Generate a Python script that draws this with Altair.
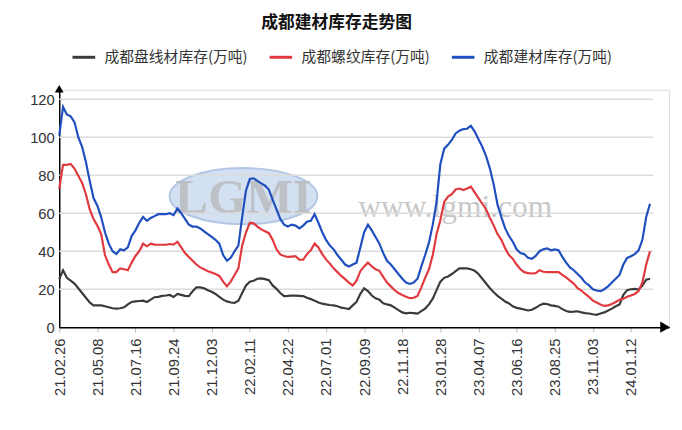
import altair as alt
import pandas as pd

tick_labels = ["21.02.26", "21.05.08", "21.07.16", "21.09.24", "21.12.03", "22.02.11",
               "22.04.22", "22.07.01", "22.09.09", "22.11.18", "23.01.28", "23.04.07",
               "23.06.16", "23.08.25", "23.11.03", "24.01.12"]
y_ticks = [0, 20, 40, 60, 80, 100, 120]

series_names = ["成都盘线材库存(万吨)", "成都螺纹库存(万吨)", "成都建材库存(万吨)"]
series_colors = ["#3a3a3a", "#e0393e", "#1f4fbf"]

wire = [25.3, 30, 26, 24.5, 23, 20.5, 18, 15.5, 13, 11.5,
        11.5, 11.5, 11, 10.5, 10, 9.8, 10, 10.5, 12, 13.3,
        13.6, 13.8, 14, 13.3, 14.5, 15.8, 16, 16.5, 16.7, 17,
        15.9, 17.5, 17, 16.5, 16.4, 19, 21, 21, 20.5, 19.5,
        18.7, 17.5, 16, 14.5, 13.6, 13, 12.8, 14, 18, 22,
        24, 24.5, 25.5, 25.7, 25.3, 24.8, 22, 20.2, 18, 16.4,
        16.5, 16.7, 16.6, 16.5, 16.4, 15.5, 14.8, 14, 13, 12.4,
        12, 11.7, 11.5, 11, 10.3, 10, 9.6, 11.5, 13.3, 17.6,
        20.5, 19, 16.7, 15.2, 14.5, 12.6, 12, 11.5, 10.3, 9,
        7.8, 7.3, 7.6, 7.4, 7.2, 8.5, 9.8, 12, 15, 19.5,
        24, 26, 26.7, 28, 29.5, 31, 31, 31, 30.5, 29.7,
        28, 25.5, 23, 20.5, 18.4, 16.5, 15, 13.5, 12.5, 11,
        10.2, 9.8, 9.3, 8.8, 9.2, 10.2, 11.5, 12.4, 12.2, 11.5,
        11.2, 10.8, 9.5, 8.5, 8.1, 8.2, 8.4, 7.8, 7.4, 7.2,
        6.8, 6.5, 7.2, 7.8, 8.8, 9.8, 11, 12, 17, 19.5,
        20, 20.2, 19.8, 21.9, 25, 25.5]

rebar = [73, 85.5, 85.5, 86, 83.5, 79.7, 76, 70, 62, 57,
         53.5, 49, 38, 33, 29, 29, 31, 30.5, 30, 34,
         37.5, 40, 44, 42.6, 44, 43.5, 43.4, 43.4, 43.4, 43.8,
         43.5, 45, 42, 39, 37, 35, 33, 31.5, 30.5, 29.5,
         28.8, 28, 27, 24, 21.5, 24, 27.5, 31, 43, 50,
         55, 54.7, 53, 51.5, 50.5, 49.5, 46, 41, 38.3, 37.5,
         37, 37.2, 37.4, 35.5, 35.5, 38.5, 40.5, 44, 42, 38.5,
         35.7, 33.5, 31, 29, 27, 25.3, 23.5, 22, 24.5, 29.5,
         32, 34, 32, 30.5, 29.7, 26.5, 23.5, 21.5, 19.5, 18,
         17, 16, 15.3, 15.5, 16.5, 21, 26, 30.5, 38, 49,
         56.4, 66, 68.8, 70, 72.5, 73, 72.2, 73, 74, 71,
         68, 65, 62, 57.5, 53.5, 49, 46, 41.5, 38, 36,
         33, 30.5, 29, 28.5, 28.3, 28.5, 30, 29.2, 29, 29,
         29, 29, 27.5, 26.2, 24.5, 23, 20.5, 19.3, 17.5, 16,
         14, 13, 12, 11.2, 11.5, 12.2, 13.3, 14.5, 15, 16,
         16.7, 17.5, 19, 23.6, 33, 40]

total = [101, 116, 112, 111, 108, 100, 95, 87, 77, 68,
         64, 58, 50, 44, 40, 38.5, 41, 40.5, 42, 48,
         51, 55, 58, 56, 57.5, 58.5, 59.5, 59.5, 59.5, 60,
         59, 62.5, 60, 57, 54, 53, 53, 52, 50.5, 49,
         47.5, 46, 44, 38, 35, 36.5, 40, 43, 58, 72,
         78, 78.4, 77, 75.7, 74.5, 72.5, 67, 62, 57, 54,
         53, 54, 53.5, 52, 53.5, 55.5, 56, 59.5, 55, 50,
         46, 43, 41, 38, 35.5, 33, 32, 33, 34, 42,
         50, 54, 51, 47.5, 44, 39, 35, 33, 30.5, 28,
         25.5, 23.5, 22.8, 23.5, 25.5, 32, 38, 44.5, 54, 66,
         86, 94, 96, 98.6, 102, 103.5, 104.3, 104.5, 106, 103,
         99, 95, 90, 83.5, 75, 64.5, 58, 52, 48, 45,
         41, 39, 38.5, 36.5, 36, 37.5, 40, 41, 41.5, 40.5,
         41, 40.5, 37, 34, 31.5, 30, 28, 26, 23.5, 22,
         20, 19.3, 19, 20, 21.5, 23.5, 25.5, 27.5, 33, 36.5,
         37.4, 38.5, 40.5, 46, 58, 65]

rows = []
for name, vals in zip(series_names, [wire, rebar, total]):
    for i, v in enumerate(vals):
        rows.append({"idx": i, "value": v, "series": name})
df = pd.DataFrame(rows)

label_expr = "[" + ",".join("'%s'" % s for s in tick_labels) + "][round(datum.value/10)]"

W, H = 619, 241
x_scale = alt.Scale(domain=[0, 160], nice=False, zero=False)
y_scale = alt.Scale(domain=[0, 125], nice=False)

lines = alt.Chart(df).mark_line(strokeWidth=2.2, clip=False).encode(
    x=alt.X("idx:Q", scale=x_scale, title=None,
            axis=alt.Axis(values=list(range(0, 151, 10)), labelExpr=label_expr,
                          labelAngle=270, grid=False, domainColor="#000000",
                          domainWidth=1.5, tickColor="#bbbbbb", tickSize=5,
                          labelFontSize=15, labelFont="Liberation Sans",
                          labelColor="#333333", labelPadding=6)),
    y=alt.Y("value:Q", scale=y_scale, title=None,
            axis=alt.Axis(values=y_ticks, grid=False, domainColor="#000000",
                          domainWidth=1.5, ticks=False, labelFontSize=15,
                          labelFont="Liberation Sans", labelColor="#333333",
                          labelPadding=5)),
    color=alt.Color("series:N", scale=alt.Scale(domain=series_names, range=series_colors),
                    legend=alt.Legend(orient="none", legendX=12, legendY=-46,
                                      direction="horizontal", title=None,
                                      symbolType="stroke", symbolSize=529,
                                      symbolStrokeWidth=3, labelFontSize=15,
                                      labelFont="Noto Sans CJK SC", labelColor="#333333",
                                      columnPadding=15, labelOffset=8)),
    detail="series:N",
    order="idx:Q",
)

grid = alt.Chart(pd.DataFrame({"g": y_ticks[1:]})).mark_rule(
    color="#dcdcdc", strokeWidth=1.5).encode(
    y=alt.Y("g:Q", scale=y_scale), x=alt.value(0), x2=alt.value(603))

one = pd.DataFrame({"t": ["www.lgmi.com"], "logo": ["LGMI"]})
ellipse = alt.Chart(one).mark_point(
    shape="M-1,0A1,0.38,0,1,1,1,0A1,0.38,0,1,1,-1,0Z", filled=True,
    fill="#c4d6ee", stroke="#9ab3da", strokeWidth=2, opacity=0.75, size=22500
).encode(x=alt.value(187), y=alt.value(108))
logo_text = alt.Chart(one).mark_text(
    font="Liberation Serif", fontSize=50, fontWeight="bold", color="#b9b9b9",
    opacity=0.8, align="center", baseline="middle"
).encode(x=alt.value(187), y=alt.value(110), text="logo:N")
wm_text = alt.Chart(one).mark_text(
    font="Liberation Serif", fontSize=32, color="#c8c8c8", align="center",
    baseline="middle"
).encode(x=alt.value(402), y=alt.value(119), text="t:N")

arrow_x = alt.Chart(one).mark_point(shape="triangle-right", filled=True, color="#000000",
                                    size=130, opacity=1).encode(
    x=alt.value(615), y=alt.value(H))
arrow_y = alt.Chart(one).mark_point(shape="triangle-up", filled=True, color="#000000",
                                    size=80, opacity=1).encode(
    x=alt.value(0), y=alt.value(-1))

chart = alt.layer(ellipse, logo_text, wm_text, grid, lines, arrow_x, arrow_y).properties(
    width=W, height=H,
    title=alt.TitleParams("成都建材库存走势图", font="Noto Sans CJK SC", fontSize=17,
                          fontWeight="bold", color="#111111", anchor="middle",
                          frame="group", dx=-28, offset=13),
    autosize=alt.AutoSizeParams(type="none"),
    padding={"left": 52, "top": 80, "right": 5, "bottom": 80},
).configure_view(stroke=None).configure(background="white")

chart.save("out.html", embed_options={"renderer": "svg", "actions": False})
